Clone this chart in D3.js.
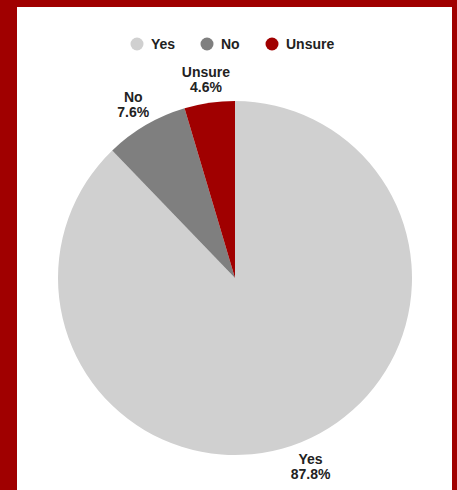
<!DOCTYPE html>
<html>
<head>
<meta charset="utf-8">
<script src="https://cdn.jsdelivr.net/npm/d3@7"></script>
<style>
  html, body { margin: 0; padding: 0; background: #a00000; }
  svg { display: block; }
</style>
</head>
<body>
<svg id="chart" width="457" height="490"></svg>
<script>
// Survey responses (percent)
const categories = ["Yes", "No", "Unsure"];
const values = [87.8, 7.6, 4.6];
const colors = ["#d0d0d0", "#7f7f7f", "#a00000"];

const width = 457, height = 490;
const svg = d3.select("#chart");

// white card inside the red frame
svg.append("rect")
  .attr("x", 17).attr("y", 7)
  .attr("width", 435).attr("height", height - 7)
  .attr("fill", "#ffffff");

const cx = 235, cy = 278, radius = 177, labelRadius = 202;
const font = "'Liberation Sans', Arial, Helvetica, sans-serif";

const color = d3.scaleOrdinal().domain(categories).range(colors);
const data = categories.map((c, i) => ({ label: c, value: values[i] }));

const pie = d3.pie().sort(null).value(d => d.value);
const arc = d3.arc().innerRadius(0).outerRadius(radius);
const labelArc = d3.arc().innerRadius(labelRadius).outerRadius(labelRadius);

const g = svg.append("g").attr("transform", `translate(${cx},${cy})`);
const arcs = pie(data);

g.selectAll("path.slice")
  .data(arcs)
  .join("path")
  .attr("class", "slice")
  .attr("d", arc)
  .attr("fill", d => color(d.data.label));

// outside labels: name + percentage
const labels = g.selectAll("text.lbl")
  .data(arcs)
  .join("text")
  .attr("class", "lbl")
  .attr("transform", d => {
    const [x, y] = labelArc.centroid(d);
    return `translate(${x},${y})`;
  })
  .attr("text-anchor", "middle")
  .attr("font-family", font)
  .attr("font-size", 14)
  .attr("font-weight", "bold")
  .attr("fill", "#222222");

labels.append("tspan")
  .attr("x", 0).attr("dy", "-0.1em")
  .text(d => d.data.label);
labels.append("tspan")
  .attr("x", 0).attr("dy", "1.1em")
  .text(d => d.data.value.toFixed(1) + "%");

// legend
const legendX = [137, 207, 272];
const legend = svg.append("g").attr("class", "legend");
const items = legend.selectAll("g")
  .data(categories)
  .join("g")
  .attr("transform", (d, i) => `translate(${legendX[i]},44)`);
items.append("circle")
  .attr("r", 6.5)
  .attr("fill", d => color(d));
items.append("text")
  .attr("x", 14).attr("y", 5)
  .attr("font-family", font)
  .attr("font-size", 14)
  .attr("font-weight", "bold")
  .attr("fill", "#222222")
  .text(d => d);
</script>
</body>
</html>
